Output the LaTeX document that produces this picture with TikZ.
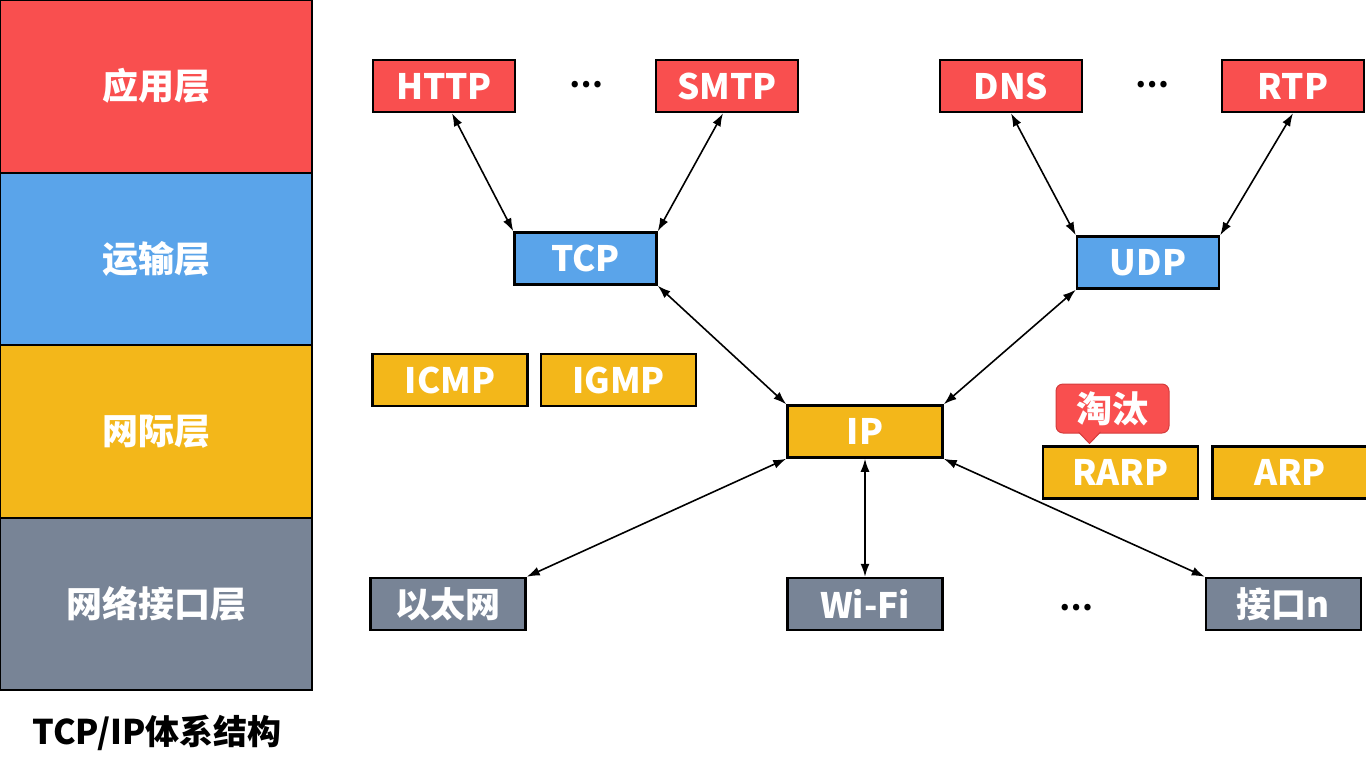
\documentclass[tikz,border=0pt]{standalone}
\usepackage{fontspec}
\setmainfont{Noto Sans CJK SC}
\usetikzlibrary{positioning,arrows.meta}

\definecolor{appred}{HTML}{F94F4F}
\definecolor{transblue}{HTML}{5AA4EA}
\definecolor{netyellow}{HTML}{F3B71A}
\definecolor{linkgray}{HTML}{788496}
\definecolor{tagedge}{HTML}{D43C3C}

\begin{document}
\begin{tikzpicture}[
  x=1pt, y=-1pt,
  node distance=11pt and 11pt,
  layer/.style={rectangle, draw=black, line width=2pt, fill=#1, minimum width=312pt,
                minimum height=172.5pt, inner sep=0pt, text=white,
                font=\fontsize{36}{40}\selectfont\bfseries},
  proto/.style={rectangle, draw=black, line width=2.5pt, fill=#1, minimum height=52pt,
                inner sep=0pt, text=white, font=\fontsize{35}{40}\selectfont\bfseries},
  app/.style={proto=appred, minimum width=142pt},
  trans/.style={proto=transblue, minimum width=142pt},
  net/.style={proto=netyellow, minimum width=155pt},
  link/.style={proto=linkgray, minimum width=155pt},
  tag/.style={rectangle, rounded corners=7pt, draw=tagedge, line width=1pt, fill=appred,
              minimum width=113pt, minimum height=49pt, inner sep=0pt, text=white,
              font=\fontsize{36}{40}\selectfont\bfseries},
  dots/.style={font=\fontsize{30}{30}\selectfont\bfseries},
  arrow/.style={{Latex[length=13pt,width=9pt]}-{Latex[length=13pt,width=9pt]}, line width=1.6pt}
]
\useasboundingbox (0,0) rectangle (1366,780);

% layers
\node[layer=appred]    (la) at (156,86.25)  {应用层};
\node[layer=transblue] (lt) at (156,258.75) {运输层};
\node[layer=netyellow] (ln) at (156,431.25) {网际层};
\node[layer=linkgray]  (ll) at (156,603.75) {网络接口层};
\node[font=\fontsize{34}{38}\selectfont\bfseries] (title) at (157,733) {TCP/IP体系结构};

% application
\node[app] (http) at (444,86)  {HTTP};
\node[dots] (d1)  at (586,85)  {…};
\node[app] (smtp) at (727,86)  {SMTP};
\node[app] (dns)  at (1011,86) {DNS};
\node[dots] (d2)  at (1152,85) {…};
\node[app] (rtp)  at (1293,86) {RTP};

% transport
\node[trans] (tcp) at (585.5,258.5) {TCP};
\node[trans] (udp) at (1148,262.5)  {UDP};

% internet
\node[net] (icmp) at (450,380) {ICMP};
\node[net, right=of icmp] (igmp) {IGMP};
\node[net] (ip) at (865,431.5) {IP};
\node[net] (rarp) at (1120.5,472.5) {RARP};
\node[net, right=12pt of rarp] (arp) {ARP};
\node[tag] (old) at (1112.5,408.5) {淘汰};
\filldraw[fill=appred, draw=tagedge, line width=1pt]
  ([xshift=-34pt,yshift=1.5pt]old.south) -- ([xshift=-23pt,yshift=-10pt]old.south)
  -- ([xshift=-12pt,yshift=1.5pt]old.south);

% link
\node[link] (eth)  at (448,604)    {以太网};
\node[link] (wifi) at (865,604)    {Wi-Fi};
\node[dots] (d3)   at (1076,608)   {…};
\node[link] (ifn)  at (1283.5,604) {接口n};

\draw[arrow] ([xshift=8pt]http.south) -- (tcp.north west);
\draw[arrow] ([xshift=-4pt]smtp.south) -- (tcp.north east);
\draw[arrow] (dns.south) -- (udp.north west);
\draw[arrow] (rtp.south) -- (udp.north east);
\draw[arrow] (tcp.south east) -- (ip.north west);
\draw[arrow] (udp.south west) -- (ip.north east);
\draw[arrow] (ip.south west) -- (eth.north east);
\draw[arrow] (ip.south) -- (wifi.north);
\draw[arrow] (ip.south east) -- (ifn.north west);
\end{tikzpicture}
\end{document}
